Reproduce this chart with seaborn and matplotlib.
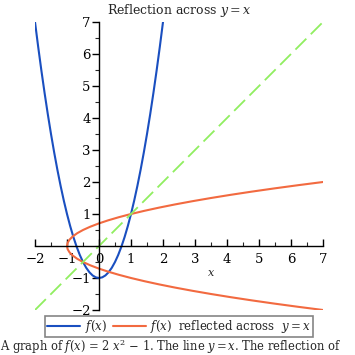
import numpy as np
import matplotlib
matplotlib.use("Agg")
import matplotlib.pyplot as plt
import seaborn as sns
from matplotlib.ticker import MultipleLocator

x_vals = [-2.0, -1.9, -1.8, -1.7, -1.6, -1.5, -1.4, -1.3, -1.2, -1.1, -1.0,
          -0.9, -0.8, -0.7, -0.6, -0.5, -0.4, -0.3, -0.2, -0.1, 0.0,
          0.1, 0.2, 0.3, 0.4, 0.5, 0.6, 0.7, 0.8, 0.9, 1.0,
          1.1, 1.2, 1.3, 1.4, 1.5, 1.6, 1.7, 1.8, 1.9, 2.0]
f_vals = [7.0, 6.22, 5.48, 4.78, 4.12, 3.5, 2.92, 2.38, 1.88, 1.42, 1.0,
          0.62, 0.28, -0.02, -0.28, -0.5, -0.68, -0.82, -0.92, -0.98, -1.0,
          -0.98, -0.92, -0.82, -0.68, -0.5, -0.28, -0.02, 0.28, 0.62, 1.0,
          1.42, 1.88, 2.38, 2.92, 3.5, 4.12, 4.78, 5.48, 6.22, 7.0]
diag = [-2, 7]
ticks = [-2, -1, 0, 1, 2, 3, 4, 5, 6, 7]

BLUE = "#1a4fc0"
ORANGE = "#f26a40"
GREEN = "#90ee60"

sns.set_theme(style="white")
plt.rcParams["font.family"] = ["DejaVu Serif"]
plt.rcParams["mathtext.fontset"] = "dejavuserif"

fig = plt.figure(figsize=(3.55, 3.55), dpi=100)
ax = fig.add_axes([35 / 355, 45 / 355, 288 / 355, 288 / 355])

sns.lineplot(x=x_vals, y=f_vals, ax=ax, color=BLUE, lw=1.5, sort=False,
             estimator=None, label=r"$f(x)$")
sns.lineplot(x=f_vals, y=x_vals, ax=ax, color=ORANGE, lw=1.5, sort=False,
             estimator=None, label=r"$f(x)$  reflected across  $y = x$")
sns.lineplot(x=diag, y=diag, ax=ax, color=GREEN, lw=1.3, ls=(0, (8.5, 3.5)),
             estimator=None, legend=False)

ax.set_xlim(-2, 7)
ax.set_ylim(-2, 7)
ax.spines["left"].set_position(("data", 0))
ax.spines["bottom"].set_position(("data", 0))
ax.spines["right"].set_visible(False)
ax.spines["top"].set_visible(False)
for s in ("left", "bottom"):
    ax.spines[s].set_color("black")
    ax.spines[s].set_linewidth(1.0)

ax.set_xticks(ticks)
ax.set_yticks([t for t in ticks if t != 0])
ax.xaxis.set_minor_locator(MultipleLocator(0.5))
ax.yaxis.set_minor_locator(MultipleLocator(0.5))
ax.tick_params(axis="x", which="major", direction="in", length=5, width=1,
               labelsize=9.5, pad=5, colors="black")
ax.tick_params(axis="x", which="minor", direction="in", length=3, width=0.8)
ax.tick_params(axis="y", which="major", direction="out", length=5, width=1,
               labelsize=9.5, pad=1, colors="black")
ax.tick_params(axis="y", which="minor", direction="out", length=3, width=0.8)
ax.tick_params(which="both", bottom=True, left=True)
ax.set_xticklabels([str(t).replace("-", "\u2212") for t in ticks])
ax.set_yticklabels([str(t).replace("-", "\u2212") for t in ticks if t != 0])

ax.set_xlabel(r"$x$", fontsize=8)
ax.xaxis.set_label_coords(0.611, 0.145)
ax.set_ylabel("")
ax.set_title(r"Reflection across $y = x$", fontsize=9, pad=6)

leg = ax.legend(loc="upper center", bbox_to_anchor=(0.5, -0.022), ncol=2,
                fontsize=8.5, frameon=True, fancybox=False, handlelength=2.8,
                columnspacing=0.5, handletextpad=0.4, borderpad=0.15,
                borderaxespad=0)
leg.get_frame().set_edgecolor("#666666")
leg.get_frame().set_linewidth(1.2)

fig.text(0.0, 3.5 / 355, r"A graph of $f(x)$ = 2 $x^2$ $-$ 1. The line $y = x$. The reflection of",
         fontsize=8.3, ha="left", va="baseline")

fig.savefig("out.png", dpi=100)
